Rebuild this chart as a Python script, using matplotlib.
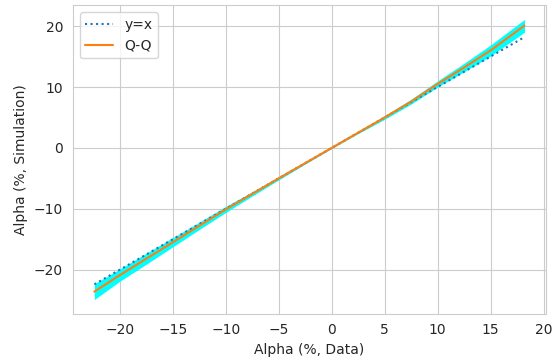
import matplotlib
matplotlib.use("Agg")
import matplotlib.pyplot as plt
import seaborn as sns

sns.set_style("whitegrid")

# Quantiles (%, data) and matching simulation quantiles
q_data = [-22.4, -20.0, -17.5, -15.0, -12.5, -10.0, -7.5, -5.0, -2.5, 0.0,
          2.5, 5.0, 7.5, 10.0, 12.5, 15.0, 18.2]
q_sim = [-23.6, -20.9, -18.2, -15.5, -12.8, -10.1, -7.55, -5.0, -2.5, 0.0,
         2.5, 5.0, 7.6, 10.5, 13.2, 16.0, 20.1]
band_low = [-24.9, -21.9, -19.1, -16.25, -13.4, -10.6, -7.9, -5.25, -2.65, -0.1,
            2.35, 4.7, 7.2, 10.0, 12.5, 15.1, 19.0]
band_high = [-22.3, -19.9, -17.3, -14.75, -12.2, -9.6, -7.2, -4.75, -2.35, 0.1,
             2.65, 5.3, 8.0, 11.0, 13.9, 16.9, 21.1]

fig = plt.figure(figsize=(5.56, 3.6), dpi=100)
ax = fig.add_axes([0.131, 0.129, 0.851, 0.856])

ax.fill_between(q_data, band_low, band_high, color="cyan", linewidth=0)
ax.plot(q_data, q_data, linestyle=":", color="C0", label="y=x")
ax.plot(q_data, q_sim, color="C1", label="Q-Q")

ax.set_xlabel("Alpha (%, Data)")
ax.set_ylabel("Alpha (%, Simulation)")
ax.legend(loc="upper left")

fig.savefig("out.png", dpi=100)
